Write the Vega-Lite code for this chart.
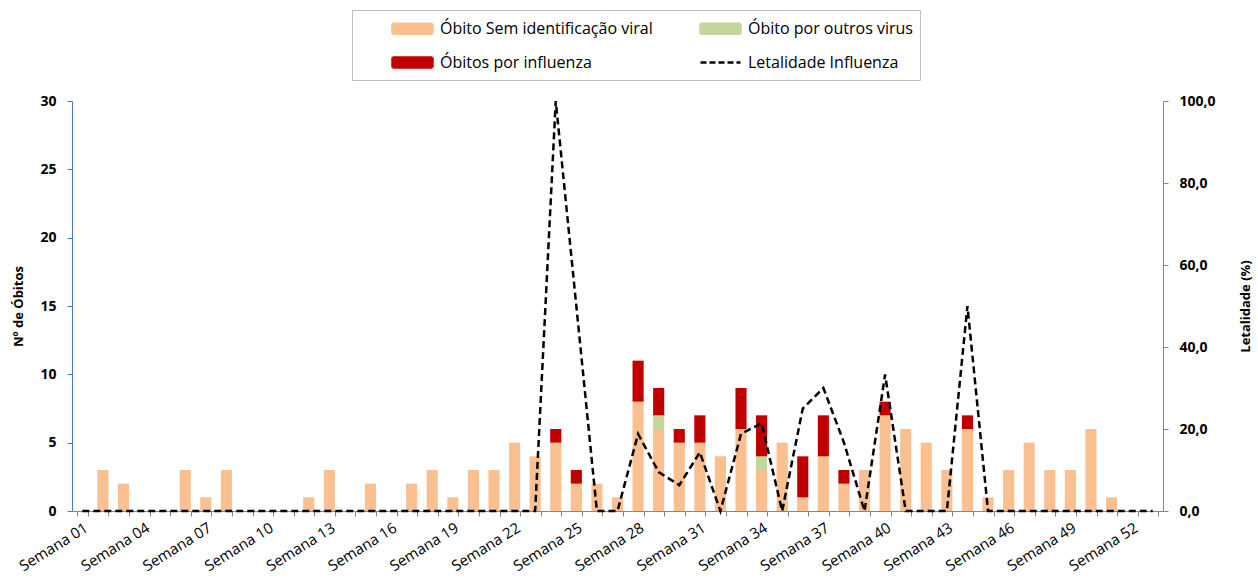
{
  "$schema": "https://vega.github.io/schema/vega-lite/v6.json",
  "width": 1091,
  "height": 410,
  "autosize": {"type": "none"},
  "padding": {"left": 72, "top": 101, "right": 95, "bottom": 69},
  "background": "white",
  "config": {
    "view": {"stroke": null},
    "font": "Open Sans",
    "axis": {"grid": false, "labelFont": "Open Sans", "titleFont": "Open Sans", "labelColor": "#000000", "titleColor": "#000000"}
  },
  "datasets": {
    "bars": [
      {"semana": "Semana 02", "serie": "Óbito Sem identificação viral", "valor": 3, "ord": 1},
      {"semana": "Semana 03", "serie": "Óbito Sem identificação viral", "valor": 2, "ord": 1},
      {"semana": "Semana 06", "serie": "Óbito Sem identificação viral", "valor": 3, "ord": 1},
      {"semana": "Semana 07", "serie": "Óbito Sem identificação viral", "valor": 1, "ord": 1},
      {"semana": "Semana 08", "serie": "Óbito Sem identificação viral", "valor": 3, "ord": 1},
      {"semana": "Semana 12", "serie": "Óbito Sem identificação viral", "valor": 1, "ord": 1},
      {"semana": "Semana 13", "serie": "Óbito Sem identificação viral", "valor": 3, "ord": 1},
      {"semana": "Semana 15", "serie": "Óbito Sem identificação viral", "valor": 2, "ord": 1},
      {"semana": "Semana 17", "serie": "Óbito Sem identificação viral", "valor": 2, "ord": 1},
      {"semana": "Semana 18", "serie": "Óbito Sem identificação viral", "valor": 3, "ord": 1},
      {"semana": "Semana 19", "serie": "Óbito Sem identificação viral", "valor": 1, "ord": 1},
      {"semana": "Semana 20", "serie": "Óbito Sem identificação viral", "valor": 3, "ord": 1},
      {"semana": "Semana 21", "serie": "Óbito Sem identificação viral", "valor": 3, "ord": 1},
      {"semana": "Semana 22", "serie": "Óbito Sem identificação viral", "valor": 5, "ord": 1},
      {"semana": "Semana 23", "serie": "Óbito Sem identificação viral", "valor": 4, "ord": 1},
      {"semana": "Semana 24", "serie": "Óbito Sem identificação viral", "valor": 5, "ord": 1},
      {"semana": "Semana 25", "serie": "Óbito Sem identificação viral", "valor": 2, "ord": 1},
      {"semana": "Semana 26", "serie": "Óbito Sem identificação viral", "valor": 2, "ord": 1},
      {"semana": "Semana 27", "serie": "Óbito Sem identificação viral", "valor": 1, "ord": 1},
      {"semana": "Semana 28", "serie": "Óbito Sem identificação viral", "valor": 8, "ord": 1},
      {"semana": "Semana 29", "serie": "Óbito Sem identificação viral", "valor": 6, "ord": 1},
      {"semana": "Semana 30", "serie": "Óbito Sem identificação viral", "valor": 5, "ord": 1},
      {"semana": "Semana 31", "serie": "Óbito Sem identificação viral", "valor": 5, "ord": 1},
      {"semana": "Semana 32", "serie": "Óbito Sem identificação viral", "valor": 4, "ord": 1},
      {"semana": "Semana 33", "serie": "Óbito Sem identificação viral", "valor": 6, "ord": 1},
      {"semana": "Semana 34", "serie": "Óbito Sem identificação viral", "valor": 3, "ord": 1},
      {"semana": "Semana 35", "serie": "Óbito Sem identificação viral", "valor": 5, "ord": 1},
      {"semana": "Semana 36", "serie": "Óbito Sem identificação viral", "valor": 1, "ord": 1},
      {"semana": "Semana 37", "serie": "Óbito Sem identificação viral", "valor": 4, "ord": 1},
      {"semana": "Semana 38", "serie": "Óbito Sem identificação viral", "valor": 2, "ord": 1},
      {"semana": "Semana 39", "serie": "Óbito Sem identificação viral", "valor": 3, "ord": 1},
      {"semana": "Semana 40", "serie": "Óbito Sem identificação viral", "valor": 7, "ord": 1},
      {"semana": "Semana 41", "serie": "Óbito Sem identificação viral", "valor": 6, "ord": 1},
      {"semana": "Semana 42", "serie": "Óbito Sem identificação viral", "valor": 5, "ord": 1},
      {"semana": "Semana 43", "serie": "Óbito Sem identificação viral", "valor": 3, "ord": 1},
      {"semana": "Semana 44", "serie": "Óbito Sem identificação viral", "valor": 6, "ord": 1},
      {"semana": "Semana 45", "serie": "Óbito Sem identificação viral", "valor": 1, "ord": 1},
      {"semana": "Semana 46", "serie": "Óbito Sem identificação viral", "valor": 3, "ord": 1},
      {"semana": "Semana 47", "serie": "Óbito Sem identificação viral", "valor": 5, "ord": 1},
      {"semana": "Semana 48", "serie": "Óbito Sem identificação viral", "valor": 3, "ord": 1},
      {"semana": "Semana 49", "serie": "Óbito Sem identificação viral", "valor": 3, "ord": 1},
      {"semana": "Semana 50", "serie": "Óbito Sem identificação viral", "valor": 6, "ord": 1},
      {"semana": "Semana 51", "serie": "Óbito Sem identificação viral", "valor": 1, "ord": 1},
      {"semana": "Semana 29", "serie": "Óbito por outros virus", "valor": 1, "ord": 2},
      {"semana": "Semana 34", "serie": "Óbito por outros virus", "valor": 1, "ord": 2},
      {"semana": "Semana 24", "serie": "Óbitos por influenza", "valor": 1, "ord": 3},
      {"semana": "Semana 25", "serie": "Óbitos por influenza", "valor": 1, "ord": 3},
      {"semana": "Semana 28", "serie": "Óbitos por influenza", "valor": 3, "ord": 3},
      {"semana": "Semana 29", "serie": "Óbitos por influenza", "valor": 2, "ord": 3},
      {"semana": "Semana 30", "serie": "Óbitos por influenza", "valor": 1, "ord": 3},
      {"semana": "Semana 31", "serie": "Óbitos por influenza", "valor": 2, "ord": 3},
      {"semana": "Semana 33", "serie": "Óbitos por influenza", "valor": 3, "ord": 3},
      {"semana": "Semana 34", "serie": "Óbitos por influenza", "valor": 3, "ord": 3},
      {"semana": "Semana 36", "serie": "Óbitos por influenza", "valor": 3, "ord": 3},
      {"semana": "Semana 37", "serie": "Óbitos por influenza", "valor": 3, "ord": 3},
      {"semana": "Semana 38", "serie": "Óbitos por influenza", "valor": 1, "ord": 3},
      {"semana": "Semana 40", "serie": "Óbitos por influenza", "valor": 1, "ord": 3},
      {"semana": "Semana 44", "serie": "Óbitos por influenza", "valor": 1, "ord": 3}
    ],
    "letalidade": [
      {"semana": "Semana 01", "let": 0}, {"semana": "Semana 02", "let": 0}, {"semana": "Semana 03", "let": 0},
      {"semana": "Semana 04", "let": 0}, {"semana": "Semana 05", "let": 0}, {"semana": "Semana 06", "let": 0},
      {"semana": "Semana 07", "let": 0}, {"semana": "Semana 08", "let": 0}, {"semana": "Semana 09", "let": 0},
      {"semana": "Semana 10", "let": 0}, {"semana": "Semana 11", "let": 0}, {"semana": "Semana 12", "let": 0},
      {"semana": "Semana 13", "let": 0}, {"semana": "Semana 14", "let": 0}, {"semana": "Semana 15", "let": 0},
      {"semana": "Semana 16", "let": 0}, {"semana": "Semana 17", "let": 0}, {"semana": "Semana 18", "let": 0},
      {"semana": "Semana 19", "let": 0}, {"semana": "Semana 20", "let": 0}, {"semana": "Semana 21", "let": 0},
      {"semana": "Semana 22", "let": 0}, {"semana": "Semana 23", "let": 0}, {"semana": "Semana 24", "let": 100},
      {"semana": "Semana 25", "let": 50}, {"semana": "Semana 26", "let": 0}, {"semana": "Semana 27", "let": 0},
      {"semana": "Semana 28", "let": 18.8}, {"semana": "Semana 29", "let": 9.5}, {"semana": "Semana 30", "let": 6.3},
      {"semana": "Semana 31", "let": 14.3}, {"semana": "Semana 32", "let": 0}, {"semana": "Semana 33", "let": 18.8},
      {"semana": "Semana 34", "let": 21.4}, {"semana": "Semana 35", "let": 0}, {"semana": "Semana 36", "let": 25},
      {"semana": "Semana 37", "let": 30}, {"semana": "Semana 38", "let": 16.7}, {"semana": "Semana 39", "let": 0},
      {"semana": "Semana 40", "let": 33.3}, {"semana": "Semana 41", "let": 0}, {"semana": "Semana 42", "let": 0},
      {"semana": "Semana 43", "let": 0}, {"semana": "Semana 44", "let": 50}, {"semana": "Semana 45", "let": 0},
      {"semana": "Semana 46", "let": 0}, {"semana": "Semana 47", "let": 0}, {"semana": "Semana 48", "let": 0},
      {"semana": "Semana 49", "let": 0}, {"semana": "Semana 50", "let": 0}, {"semana": "Semana 51", "let": 0},
      {"semana": "Semana 52", "let": 0}, {"semana": "Semana 53", "let": 0}
    ]
  },
  "encoding": {
    "x": {
      "field": "semana",
      "type": "nominal",
      "sort": "ascending",
      "scale": {"paddingInner": 0.46, "paddingOuter": 0.23},
      "axis": {
        "title": null,
        "labelAngle": -32,
        "labelFontSize": 15,
        "labelOverlap": false,
        "labelPadding": 4,
        "tickBand": "extent",
        "tickSize": 5,
        "tickColor": "#868686",
        "domainColor": "#868686",
        "labelExpr": "indexof(['Semana 01','Semana 04','Semana 07','Semana 10','Semana 13','Semana 16','Semana 19','Semana 22','Semana 25','Semana 28','Semana 31','Semana 34','Semana 37','Semana 40','Semana 43','Semana 46','Semana 49','Semana 52'], datum.value) >= 0 ? datum.label : ''"
      }
    }
  },
  "layer": [
    {
      "data": {"name": "bars"},
      "mark": {"type": "bar"},
      "encoding": {
        "y": {
          "field": "valor",
          "type": "quantitative",
          "stack": "zero",
          "scale": {"domain": [0, 30]},
          "axis": {
            "title": "Nº de Óbitos",
            "titleFontSize": 13,
            "titleFontWeight": "bold",
            "titlePadding": 14,
            "labelFontSize": 14,
            "labelFontWeight": "bold",
            "labelPadding": 11,
            "values": [0, 5, 10, 15, 20, 25, 30],
            "tickSize": 5,
            "tickColor": "#4A7EBB",
            "domainColor": "#4A7EBB"
          }
        },
        "color": {
          "field": "serie",
          "type": "nominal",
          "scale": {
            "domain": ["Óbito Sem identificação viral", "Óbito por outros virus", "Óbitos por influenza", "Letalidade Influenza"],
            "range": ["#FAC090", "#C3D69B", "#C00000", "#000000"]
          },
          "legend": {
            "title": null,
            "orient": "none",
            "legendX": 280,
            "legendY": -91,
            "columns": 2,
            "direction": "horizontal",
            "gridAlign": "all",
            "columnPadding": 14,
            "rowPadding": 12,
            "padding": 7,
            "symbolOffset": 42,
            "labelOffset": 16,
            "labelFontSize": 16,
            "labelFont": "Open Sans",
            "labelColor": "#000000",
            "labelLimit": 400,
            "strokeColor": "#BFBFBF",
            "fillColor": "white",
            "encode": {
              "symbols": {
                "update": {
                  "shape": {"signal": "datum.value === 'Letalidade Influenza' ? 'M-2,0H2' : 'M-2,-0.5H2V0.5H-2Z'"},
                  "size": {"value": 400},
                  "fill": {"signal": "datum.value === 'Letalidade Influenza' ? 'transparent' : (datum.value === 'Óbitos por influenza' ? '#C00000' : (datum.value === 'Óbito por outros virus' ? '#C3D69B' : '#FAC090'))"},
                  "stroke": {"signal": "datum.value === 'Letalidade Influenza' ? '#000000' : 'transparent'"},
                  "strokeWidth": {"value": 2.5},
                  "strokeDash": {"signal": "datum.value === 'Letalidade Influenza' ? [6, 3] : [1, 0]"},
                  "opacity": {"value": 1},
                  "fillOpacity": {"value": 1},
                  "strokeOpacity": {"value": 1}
                }
              }
            }
          }
        },
        "order": {"field": "ord", "type": "quantitative"}
      }
    },
    {
      "data": {"name": "letalidade"},
      "mark": {"type": "line", "strokeWidth": 2.5, "strokeDash": [7, 4]},
      "encoding": {
        "y": {
          "field": "let",
          "type": "quantitative",
          "scale": {"domain": [0, 100]},
          "axis": {
            "orient": "right",
            "title": "Letalidade (%)",
            "titleAngle": 270,
            "titleFontSize": 13,
            "titleFontWeight": "bold",
            "titlePadding": 37,
            "labelFontSize": 14,
            "labelFontWeight": "bold",
            "labelPadding": 11,
            "values": [0, 20, 40, 60, 80, 100],
            "labelExpr": "replace(format(datum.value, '.1f'), '.', ',')",
            "tickSize": 5,
            "tickColor": "#868686",
            "domainColor": "#868686"
          }
        },
        "color": {"datum": "Letalidade Influenza"}
      }
    }
  ],
  "resolve": {"scale": {"y": "independent"}}
}
